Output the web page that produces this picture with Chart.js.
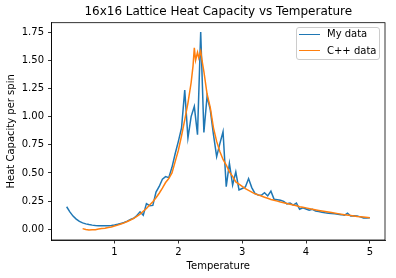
<!DOCTYPE html>
<html>
<head>
<meta charset="utf-8">
<script src="https://cdn.jsdelivr.net/npm/chart.js@4.4.1/dist/chart.umd.min.js"></script>
<style>
  html, body { margin: 0; padding: 0; background: #fff; }
  #wrap { position: relative; width: 396px; height: 278px; }
  .leg-box { position: absolute; left: 296px; top: 27px; width: 84px; height: 33px; box-sizing: border-box;
             border: 1px solid #cccccc; border-radius: 3px; background: rgba(255,255,255,0.8); }
  .leg-line { position: absolute; left: 299px; width: 21px; height: 0; border-top: 1.5px solid; }
  .leg-text { position: absolute; left: 327px; font: 10px "DejaVu Sans"; line-height: 12px; color: #000; white-space: nowrap; }
</style>
</head>
<body>
<div id="wrap">
  <canvas id="c" width="396" height="278"></canvas>
  <div class="leg-box"></div>
  <div class="leg-line" style="top:33.5px; border-color:#1f77b4"></div>
  <div class="leg-text" style="top:28.3px">My data</div>
  <div class="leg-line" style="top:50.2px; border-color:#ff7f0e"></div>
  <div class="leg-text" style="top:45px">C++ data</div>
</div>
<script>
// values
const myTemps = [0.25, 0.30, 0.35, 0.40, 0.45, 0.50, 0.55, 0.60, 0.65, 0.70, 0.75, 0.80, 0.85, 0.90, 0.95,
  1.00, 1.05, 1.10, 1.15, 1.20, 1.25, 1.30, 1.35, 1.40, 1.45, 1.50, 1.55, 1.60, 1.65, 1.70, 1.75, 1.80, 1.85, 1.90, 1.95,
  2.00, 2.05, 2.10, 2.15, 2.20, 2.25, 2.30, 2.35, 2.40, 2.45, 2.50, 2.55, 2.60, 2.65, 2.70, 2.75, 2.80, 2.85, 2.90, 2.95,
  3.00, 3.05, 3.10, 3.15, 3.20, 3.25, 3.30, 3.35, 3.40, 3.45, 3.50, 3.55, 3.60, 3.65, 3.70, 3.75, 3.80, 3.85, 3.90, 3.95,
  4.00, 4.05, 4.10, 4.15, 4.20, 4.25, 4.30, 4.35, 4.40, 4.45, 4.50, 4.55, 4.60, 4.65, 4.70, 4.75, 4.80, 4.85, 4.90, 4.95, 5.00];
const myHeat = [0.200, 0.155, 0.117, 0.090, 0.070, 0.057, 0.048, 0.042, 0.037, 0.034, 0.032, 0.031, 0.031, 0.032, 0.034,
  0.038, 0.044, 0.052, 0.060, 0.072, 0.088, 0.098, 0.122, 0.155, 0.125, 0.228, 0.210, 0.212, 0.330, 0.380, 0.445, 0.467, 0.458, 0.550, 0.670,
  0.780, 0.900, 1.235, 0.810, 1.000, 1.090, 0.840, 1.750, 0.860, 1.180, 1.060, 0.840, 0.645, 0.760, 0.866, 0.378, 0.586, 0.393, 0.510, 0.349,
  0.362, 0.375, 0.450, 0.370, 0.319, 0.305, 0.302, 0.325, 0.296, 0.338, 0.266, 0.262, 0.258, 0.248, 0.226, 0.232, 0.214, 0.232, 0.178, 0.190,
  0.180, 0.170, 0.177, 0.163, 0.157, 0.152, 0.147, 0.143, 0.139, 0.137, 0.134, 0.130, 0.124, 0.142, 0.118, 0.121, 0.119, 0.110, 0.101, 0.100, 0.103];

const cppTemps = [0.50, 0.55, 0.60, 0.65, 0.70, 0.75, 0.80, 0.85, 0.90, 0.95, 1.00, 1.05, 1.10, 1.15, 1.20, 1.25, 1.30, 1.35,
  1.40, 1.45, 1.50, 1.55, 1.60, 1.65, 1.70, 1.75, 1.80, 1.85, 1.90, 1.95, 2.00, 2.05, 2.10, 2.15, 2.20, 2.23, 2.25, 2.27,
  2.30, 2.32, 2.35, 2.37, 2.40, 2.45, 2.50, 2.55, 2.60, 2.65, 2.70, 2.75, 2.80, 2.85, 2.90, 2.95, 3.00, 3.05, 3.10, 3.15,
  3.20, 3.25, 3.30, 3.35, 3.40, 3.45, 3.50, 3.55, 3.60, 3.65, 3.70, 3.75, 3.80, 3.85, 3.90, 3.95, 4.00, 4.10, 4.20, 4.30,
  4.40, 4.50, 4.60, 4.70, 4.80, 4.90, 5.00];
const cppHeat = [0.006, -0.002, -0.007, -0.004, -0.003, 0.002, 0.006, 0.010, 0.015, 0.021, 0.029, 0.037, 0.047, 0.057, 0.069, 0.082, 0.097, 0.115,
  0.135, 0.160, 0.185, 0.215, 0.245, 0.280, 0.320, 0.365, 0.415, 0.450, 0.500, 0.600, 0.700, 0.830, 0.970, 1.120, 1.300, 1.450, 1.610, 1.500,
  1.570, 1.520, 1.580, 1.500, 1.400, 1.200, 1.080, 0.900, 0.780, 0.690, 0.620, 0.570, 0.510, 0.470, 0.420, 0.400, 0.380, 0.360, 0.345, 0.330,
  0.315, 0.305, 0.295, 0.285, 0.275, 0.265, 0.257, 0.250, 0.242, 0.235, 0.228, 0.222, 0.215, 0.208, 0.200, 0.195, 0.190, 0.178, 0.167, 0.157,
  0.148, 0.139, 0.130, 0.122, 0.114, 0.108, 0.102];

const xTicks = [1, 2, 3, 4, 5];
const yTicks = [0, 0.25, 0.5, 0.75, 1.0, 1.25, 1.5, 1.75];

const FONT = 'DejaVu Sans';

const frame = {
  id: 'frame',
  afterDatasetsDraw(chart) {
    const { ctx, chartArea: a } = chart;
    ctx.save();
    ctx.strokeStyle = '#000';
    ctx.lineWidth = 0.8;
    ctx.strokeRect(a.left, a.top, a.right - a.left, a.bottom - a.top);
    ctx.restore();
  }
};

const tickGrid = { drawOnChartArea: false, tickLength: 3.5, tickColor: '#000', tickWidth: 0.8 };

new Chart(document.getElementById('c'), {
  type: 'line',
  data: {
    datasets: [
      {
        label: 'My data',
        data: myTemps.map((t, i) => ({ x: t, y: myHeat[i] })),
        borderColor: '#1f77b4', borderWidth: 1.5, pointRadius: 0, tension: 0, fill: false, order: 1
      },
      {
        label: 'C++ data',
        data: cppTemps.map((t, i) => ({ x: t, y: cppHeat[i] })),
        borderColor: '#ff7f0e', borderWidth: 1.5, pointRadius: 0, tension: 0, fill: false, order: 0
      }
    ]
  },
  options: {
    responsive: false,
    animation: false,
    layout: { padding: { left: 0, right: 11, top: 0, bottom: 0 } },
    plugins: {
      legend: { display: false },
      tooltip: { enabled: false },
      title: {
        display: true, fullSize: false,
        text: '16x16 Lattice Heat Capacity vs Temperature',
        color: '#000', font: { family: FONT, size: 12, weight: 'normal' },
        padding: { top: 4.3, bottom: 4 }
      }
    },
    scales: {
      x: {
        type: 'linear', min: 0.0125, max: 5.2375,
        afterBuildTicks: s => { s.ticks = xTicks.map(v => ({ value: v })); },
        afterFit: s => { s.height = 38; },
        ticks: { autoSkip: false, maxRotation: 0, padding: 3, color: '#000', font: { family: FONT, size: 10 },
                 callback: v => String(v) },
        grid: tickGrid,
        border: { color: '#000', width: 0.8 },
        title: { display: true, text: 'Temperature', color: '#000', font: { family: FONT, size: 10 },
                 padding: { top: 0, bottom: 6 } }
      },
      y: {
        min: -0.095, max: 1.833,
        afterBuildTicks: s => { s.ticks = yTicks.map(v => ({ value: v })); },
        afterFit: s => { s.width = 51.5; },
        ticks: { autoSkip: false, padding: 4, color: '#000', font: { family: FONT, size: 10 },
                 callback: v => v.toFixed(2) },
        grid: tickGrid,
        border: { color: '#000', width: 0.8 },
        title: { display: true, text: 'Heat Capacity per spin', color: '#000', font: { family: FONT, size: 10 },
                 padding: { top: 5, bottom: 5 } }
      }
    }
  },
  plugins: [frame]
});
</script>
</body>
</html>
